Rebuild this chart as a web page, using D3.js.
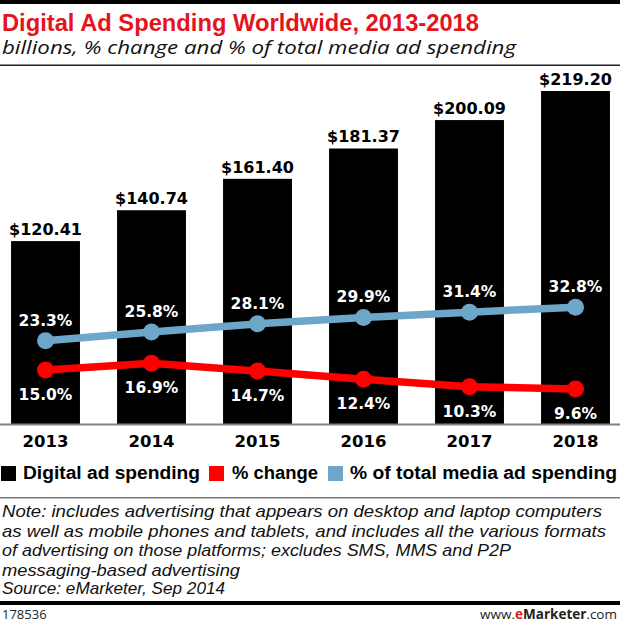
<!DOCTYPE html>
<html><head><meta charset="utf-8">
<script src="https://cdn.jsdelivr.net/npm/d3@7"></script>
<style>
html,body{margin:0;padding:0;background:#fff;}
svg{display:block;}
</style></head>
<body>
<script>
const years = ["2013","2014","2015","2016","2017","2018"];
const spending = [120.41, 140.74, 161.40, 181.37, 200.09, 219.20];
const pctChange = [15.0, 16.9, 14.7, 12.4, 10.3, 9.6];
const pctTotal = [23.3, 25.8, 28.1, 29.9, 31.4, 32.8];
const legendLabels = ["Digital ad spending", "% change", "% of total media ad spending"];
const noteLines = [
  "Note: includes advertising that appears on desktop and laptop computers",
  "as well as mobile phones and tablets, and includes all the various formats",
  "of advertising on those platforms; excludes SMS, MMS and P2P",
  "messaging-based advertising",
  "Source: eMarketer, Sep 2014"
];

const W = 620, H = 625;
const RED = "#ff0000", BLUE = "#6ca6c9", TITLE_RED = "#e3141c";
const svg = d3.select("body").append("svg").attr("width", W).attr("height", H);

// header
svg.append("rect").attr("x",0).attr("y",0).attr("width",W).attr("height",4).attr("fill","#000");
svg.append("text").attr("x",2).attr("y",31).attr("fill",TITLE_RED)
  .attr("font-family","Liberation Sans, Arial, sans-serif").attr("font-weight","bold").attr("font-size",23)
  .attr("textLength",477).attr("lengthAdjust","spacingAndGlyphs")
  .text("Digital Ad Spending Worldwide, 2013-2018");
svg.append("text").attr("x",2).attr("y",54).attr("fill","#111")
  .attr("font-family","Open Sans, sans-serif").attr("font-style","italic").attr("font-size",19)
  .attr("textLength",514).attr("lengthAdjust","spacingAndGlyphs")
  .text("billions, % change and % of total media ad spending");
svg.append("rect").attr("x",0).attr("y",64.5).attr("width",W).attr("height",1.5).attr("fill","#222");

// scales
const x = d3.scaleBand().domain(years).range([-7.5, 628.5]).paddingInner(0.35).paddingOuter(0.175);
const y = d3.scaleLinear().domain([0, 250]).range([424, 424 - 250*1.519]);
const yp = d3.scaleLinear().domain([0, 100]).range([423, 423 - 353]);
const cx = d => x(d) + x.bandwidth()/2;

// bars
const rows = years.map((yr,i)=>({yr, v:spending[i], c:pctChange[i], t:pctTotal[i]}));
svg.append("g").selectAll("rect").data(rows).join("rect")
  .attr("x", d=>x(d.yr)).attr("width", x.bandwidth())
  .attr("y", d=>y(d.v)).attr("height", d=>y(0)-y(d.v)).attr("fill","#000");

svg.append("g").selectAll("text").data(rows).join("text")
  .attr("x", d=>cx(d.yr)).attr("y", d=>y(d.v)-6).attr("text-anchor","middle")
  .attr("font-family","DejaVu Sans, sans-serif").attr("font-weight","bold").attr("font-size",16)
  .attr("fill","#000").text(d=>"$"+d3.format(".2f")(d.v));

// axis
const xAxis = d3.axisBottom(x).tickSize(0).tickPadding(0);
const ag = svg.append("g").attr("transform","translate(0,424)").call(xAxis);
ag.select(".domain").remove();
ag.selectAll("text").attr("dy",0).attr("y",23)
  .attr("font-family","DejaVu Sans, sans-serif").attr("font-weight","bold").attr("font-size",16.5).attr("fill","#000");
svg.append("rect").attr("x",0).attr("y",423.5).attr("width",W).attr("height",2).attr("fill","#808080");

// lines
const lineT = d3.line().x(d=>cx(d.yr)).y(d=>yp(d.t));
const lineC = d3.line().x(d=>cx(d.yr)).y(d=>yp(d.c));
svg.append("path").datum(rows).attr("d",lineT).attr("fill","none").attr("stroke",BLUE).attr("stroke-width",7.5);
svg.append("g").selectAll("circle").data(rows).join("circle")
  .attr("cx",d=>cx(d.yr)).attr("cy",d=>yp(d.t)).attr("r",8.5).attr("fill",BLUE);
svg.append("path").datum(rows).attr("d",lineC).attr("fill","none").attr("stroke",RED).attr("stroke-width",7.5);
svg.append("g").selectAll("circle").data(rows).join("circle")
  .attr("cx",d=>cx(d.yr)).attr("cy",d=>yp(d.c)).attr("r",8.5).attr("fill",RED);

const pf = d3.format(".1f");
svg.append("g").selectAll("text").data(rows).join("text")
  .attr("x",d=>cx(d.yr)).attr("y",d=>yp(d.t)-15).attr("text-anchor","middle")
  .attr("font-family","DejaVu Sans, sans-serif").attr("font-weight","bold").attr("font-size",15.5)
  .attr("fill","#fff").text(d=>pf(d.t)+"%");
svg.append("g").selectAll("text").data(rows).join("text")
  .attr("x",d=>cx(d.yr)).attr("y",d=>yp(d.c)+30).attr("text-anchor","middle")
  .attr("font-family","DejaVu Sans, sans-serif").attr("font-weight","bold").attr("font-size",15.5)
  .attr("fill","#fff").text(d=>pf(d.c)+"%");

// legend
const legendColors = ["#000", RED, BLUE];
const legendBoxX = [1, 209, 328];
const legendTextX = [23, 232, 350];
const legendTextW = [177, 86, 267];
const lg = svg.append("g");
legendLabels.forEach((l,i)=>{
  lg.append("rect").attr("x",legendBoxX[i]).attr("y",466).attr("width",15).attr("height",15).attr("fill",legendColors[i]);
  lg.append("text").attr("x",legendTextX[i]).attr("y",479)
    .attr("font-family","Liberation Sans, Arial, sans-serif").attr("font-weight","bold").attr("font-size",17.5)
    .attr("textLength",legendTextW[i]).attr("lengthAdjust","spacingAndGlyphs").attr("fill","#000").text(l);
});
svg.append("rect").attr("x",0).attr("y",497).attr("width",W).attr("height",1.5).attr("fill","#777");

// notes
const noteY = [517, 537, 556, 575.5, 594];
const noteW = [600, 604, 509, 238, 223];
svg.append("g").selectAll("text").data(noteLines).join("text")
  .attr("x",2).attr("y",(d,i)=>noteY[i])
  .attr("font-family","Liberation Sans, Arial, sans-serif").attr("font-style","italic").attr("font-size",17)
  .attr("textLength",(d,i)=>noteW[i]).attr("lengthAdjust","spacingAndGlyphs")
  .attr("fill","#111").text(d=>d);

svg.append("rect").attr("x",0).attr("y",601).attr("width",W).attr("height",4).attr("fill","#000");
svg.append("text").attr("x",2).attr("y",619).attr("font-family","Open Sans, sans-serif").attr("font-size",13)
  .attr("fill","#222").text("178536");
const ft = svg.append("text").attr("x",617).attr("y",619).attr("text-anchor","end")
  .attr("font-family","Open Sans, sans-serif").attr("font-size",13.5).attr("fill","#222");
ft.append("tspan").text("www.");
ft.append("tspan").attr("font-weight","bold").attr("fill",TITLE_RED).text("e");
ft.append("tspan").attr("font-weight","bold").text("Marketer");
ft.append("tspan").text(".com");
</script>
</body></html>
